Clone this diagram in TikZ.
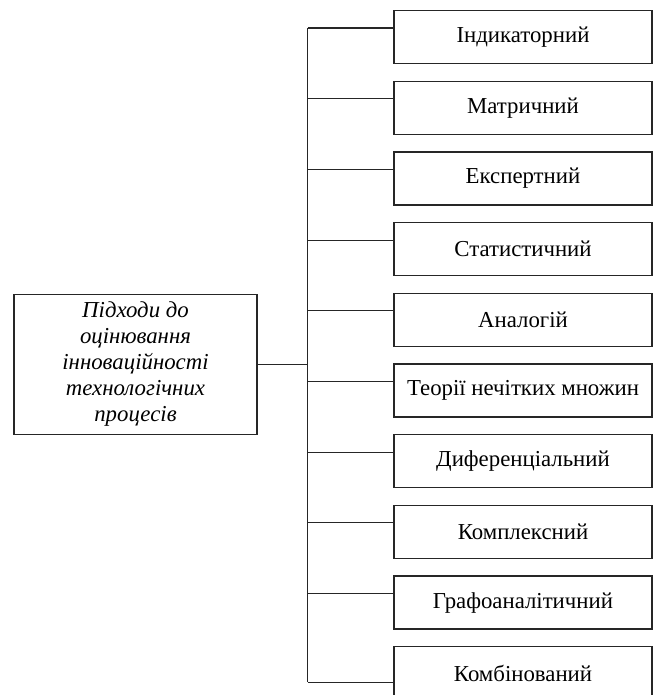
\documentclass[tikz,border=0pt]{standalone}
\usepackage{fontspec}
\setmainfont{Liberation Serif}
\usepackage{tikz}
\usetikzlibrary{calc}
\tikzset{%
    method box/.style={%
        draw=black!85,
        line width=0.6pt,
        minimum width=129pt,
        minimum height=26.5pt,
        inner sep=0pt,
        font=\fontsize{11.4}{13}\selectfont
    },%
    topic box/.style={%
        draw=black!85,
        line width=0.6pt,
        minimum width=121.5pt,
        minimum height=70pt,
        inner sep=0pt,
        align=center,
        font=\fontsize{11.4}{13}\selectfont\itshape
    },%
    link/.style={draw=black!85, line width=0.6pt}%
}

\begin{document}
\begin{tikzpicture}[x=0.5pt, y=-0.5pt]
\useasboundingbox (0,0) rectangle (656,695);

\node[topic box] (topic) at (135.5,364.2)
    {Підходи до\\оцінювання\\інноваційності\\технологічних\\процесів};

\foreach \name [count=\i] in {Індикаторний, Матричний, Експертний,
    Статистичний, Аналогій, Теорії нечітких множин, Диференціальний,
    Комплексний, Графоаналітичний, Комбінований}
    \node[method box] (m\i) at (523,{37.2+70.67*(\i-1)}) {\name};

\coordinate (trunk) at (307.7,0);

% branch to every method
\foreach \i in {1,...,9} {
    \coordinate (j\i) at ($(m\i.north west)+(0,18)$);
    \coordinate (t\i) at (trunk |- j\i);
    \draw[link] (t\i) -- (j\i);
}
\coordinate (j10) at ($(m10.north west)+(0,36)$);
\coordinate (t10) at (trunk |- j10);
\draw[link] (t10) -- (j10);

\draw[link] (t1) -- (t10);
\draw[link] (topic.east) -- (topic.east -| trunk);
\end{tikzpicture}
\end{document}
